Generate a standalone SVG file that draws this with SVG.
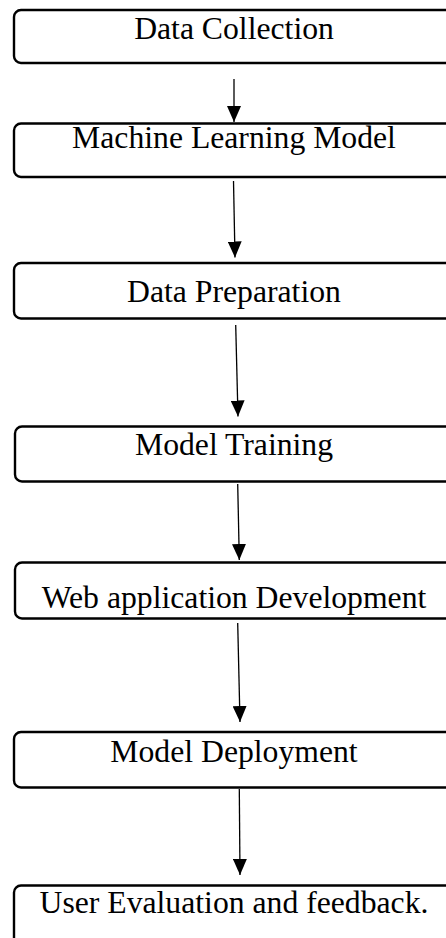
<svg xmlns="http://www.w3.org/2000/svg" width="446" height="938" viewBox="0 0 446 938">
<style>
.box{fill:#fff;stroke:#000;stroke-width:2.4}
.lbl{font-family:"Liberation Serif","Times New Roman",serif;font-size:31.7px;fill:#000;text-anchor:middle}
.con{stroke:#000;stroke-width:1.3;fill:none;marker-end:url(#ah)}
</style>
<defs>
<marker id="ah" viewBox="0 0 16 14" refX="16" refY="7" markerWidth="16" markerHeight="14" markerUnits="userSpaceOnUse" orient="auto">
<path d="M0,0 L16,7 L0,14 z" fill="#000"/>
</marker>
</defs>
<rect width="446" height="938" fill="#fff"/>
<g id="connectors">
<line class="con" x1="234" y1="79" x2="234" y2="122"/>
<line class="con" x1="233.5" y1="181" x2="235" y2="257.5"/>
<line class="con" x1="235.7" y1="325" x2="238" y2="416.5"/>
<line class="con" x1="237.7" y1="484" x2="239.3" y2="560"/>
<line class="con" x1="237.7" y1="623" x2="240" y2="722"/>
<line class="con" x1="239.3" y1="789" x2="240" y2="875"/>
</g>
<g id="n1"><rect class="box" x="14" y="10" width="450" height="53" rx="7"/><text class="lbl" x="234" y="38.5">Data Collection</text></g>
<g id="n2"><rect class="box" x="14" y="123.5" width="450" height="53.5" rx="7"/><text class="lbl" x="234" y="148">Machine Learning Model</text></g>
<g id="n3"><rect class="box" x="14" y="263" width="450" height="55.5" rx="7"/><text class="lbl" x="234" y="302">Data Preparation</text></g>
<g id="n4"><rect class="box" x="15" y="426.5" width="450" height="55" rx="7"/><text class="lbl" x="234" y="455">Model Training</text></g>
<g id="n5"><rect class="box" x="15" y="562.5" width="450" height="56" rx="7"/><text class="lbl" x="234" y="608">Web application Development</text></g>
<g id="n6"><rect class="box" x="14" y="732" width="450" height="55.5" rx="7"/><text class="lbl" x="234" y="761.5">Model Deployment</text></g>
<g id="n7"><rect class="box" x="14" y="885.5" width="450" height="60" rx="7"/><text class="lbl" x="234" y="913">User Evaluation and feedback.</text></g>
</svg>
